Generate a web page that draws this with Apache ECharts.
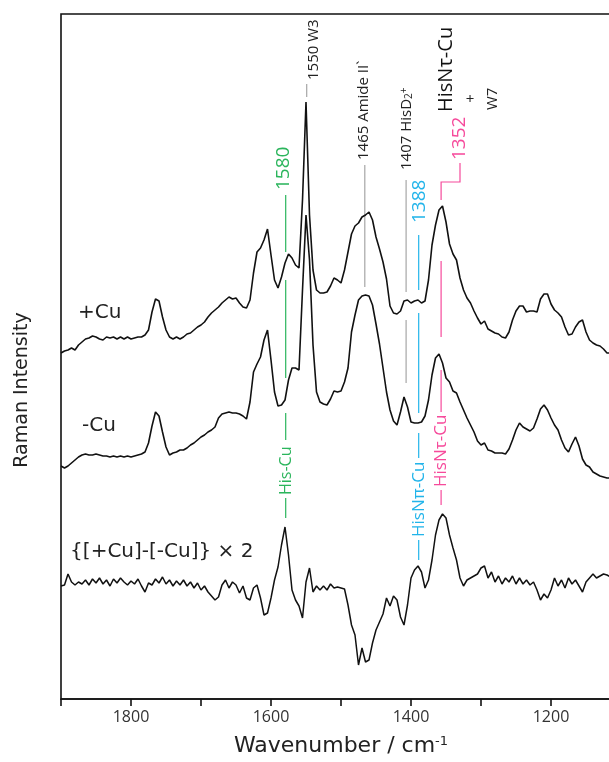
<!DOCTYPE html>
<html>
<head>
<meta charset="utf-8">
<script src="https://cdn.jsdelivr.net/npm/echarts@6/dist/echarts.min.js"></script>
<style>
html,body{margin:0;padding:0;background:#fff;}
#chart{width:609px;height:762px;}
</style>
</head>
<body>
<div id="chart"></div>
<script>
// Wavenumber grid (cm-1)
const wavenumber = [1900,1895,1890,1885,1880,1875,1870,1865,1860,1855,1850,1845,1840,1835,1830,1825,1820,1815,1810,1805,1800,1795,1790,1785,1780,1775,1770,1765,1760,1755,1750,1745,1740,1735,1730,1725,1720,1715,1710,1705,1700,1695,1690,1685,1680,1675,1670,1665,1660,1655,1650,1645,1640,1635,1630,1625,1620,1615,1610,1605,1600,1595,1590,1585,1580,1575,1570,1565,1560,1555,1550,1545,1540,1535,1530,1525,1520,1515,1510,1505,1500,1495,1490,1485,1480,1475,1470,1465,1460,1455,1450,1445,1440,1435,1430,1425,1420,1415,1410,1405,1400,1395,1390,1385,1380,1375,1370,1365,1360,1355,1350,1345,1340,1335,1330,1325,1320,1315,1310,1305,1300,1295,1290,1285,1280,1275,1270,1265,1260,1255,1250,1245,1240,1235,1230,1225,1220,1215,1210,1205,1200,1195,1190,1185,1180,1175,1170,1165,1160,1155,1150,1145,1140,1135,1130,1125,1120,1115];

// +Cu spectrum (offset, arbitrary units)
const plusCu = [346,348,349,351,349,354,357,360,361,363,362,360,359,362,361,362,360,362,360,362,360,361,362,362,364,369,387,400,398,382,369,362,360,362,360,362,365,366,369,372,374,377,382,386,389,392,396,399,402,400,401,396,392,391,399,426,447,451,459,470,444,419,411,422,436,445,441,434,431,499,597,484,429,409,406,406,407,413,421,419,416,429,447,465,473,476,482,484,487,479,462,450,437,420,393,386,385,388,398,399,396,398,399,396,398,419,454,474,489,493,477,455,445,439,421,409,401,396,388,381,375,378,370,368,366,365,362,361,367,379,388,393,393,387,388,388,387,400,405,405,395,389,386,382,372,364,365,372,377,379,367,359,356,354,353,350,346,346];

// -Cu spectrum (offset, arbitrary units)
const minusCu = [233,231,233,236,239,242,244,245,244,244,245,244,243,243,242,243,242,243,242,243,242,243,244,245,247,256,273,287,283,267,252,244,246,247,249,249,251,254,256,259,262,264,267,269,272,281,285,286,287,286,286,285,283,280,297,327,335,342,359,369,339,307,293,294,299,319,331,331,329,409,484,439,354,307,297,295,294,300,308,307,308,317,331,367,384,399,403,404,403,394,375,355,331,307,289,278,274,287,302,292,277,276,276,277,283,299,324,341,345,336,321,317,308,306,297,289,281,274,267,258,254,256,249,248,246,246,246,245,250,259,269,276,272,270,268,271,280,290,294,289,281,274,269,259,251,247,255,262,253,240,234,232,227,225,223,222,221,221];

// {[+Cu]-[-Cu]} x 2 difference spectrum (offset, arbitrary units)
const diffX2 = [113,114,125,117,114,117,115,119,114,120,116,121,115,119,113,120,116,121,117,114,118,115,120,113,107,116,114,120,116,122,115,119,113,118,114,119,113,117,111,116,109,113,107,103,99,102,114,119,111,117,114,106,113,101,99,111,114,101,84,86,101,119,132,154,172,144,109,99,93,81,117,131,107,113,109,113,109,115,111,112,111,110,94,74,64,34,51,37,39,56,69,77,85,101,93,103,99,82,74,94,121,129,133,127,111,119,139,164,179,185,181,164,151,139,121,113,119,121,123,125,131,133,121,127,117,123,115,121,117,123,115,121,115,119,114,117,109,99,105,101,109,121,113,119,111,121,115,119,113,107,117,121,125,121,123,125,124,122];

// Axis tick labels shown
const tickLabels = [1800, 1600, 1400, 1200];

// Annotation marker lines: [wavenumber(s), intensity values, colour]
const GRAY = '#a6a6a6', CYAN = '#22b4ea', PINK = '#f64a9b', GREEN = '#2bb55c';
const markerSegments = [
  {c: GRAY,  pts: [[1549, 615], [1549, 602]]},
  {c: GRAY,  pts: [[1466, 534], [1466, 412]]},
  {c: GRAY,  pts: [[1407, 519], [1407, 407]]},
  {c: GRAY,  pts: [[1407, 379], [1407, 316]]},
  {c: CYAN,  pts: [[1389, 464], [1389, 409]]},
  {c: CYAN,  pts: [[1389, 386], [1389, 286]]},
  {c: CYAN,  pts: [[1389, 266], [1389, 241]]},
  {c: CYAN,  pts: [[1389, 159], [1389, 139]]},
  {c: PINK,  pts: [[1330, 536], [1330, 517], [1357, 517], [1357, 499]]},
  {c: PINK,  pts: [[1357, 438], [1357, 362]]},
  {c: PINK,  pts: [[1357, 329], [1357, 287]]},
  {c: PINK,  pts: [[1357, 209], [1357, 194]]},
  {c: GREEN, pts: [[1579, 504], [1579, 447]]},
  {c: GREEN, pts: [[1579, 419], [1579, 321]]},
  {c: GREEN, pts: [[1579, 286], [1579, 259]]},
  {c: GREEN, pts: [[1579, 201], [1579, 181]]}
];

// Rotated annotation texts: [wavenumber, intensity at text start, text, colour, size]
const rotatedLabels = [
  [1538.6, 619, '1550 W3', '#222', 15],
  [1467, 539, '1465 Amide II`', '#222', 15],
  [1405.7, 529, '1407 HisD{sub|2}{sup|+}', '#222', 15],
  [1387.1, 476, '1388', CYAN, 19],
  [1330, 539, '1352', PINK, 19],
  [1581.4, 509, '1580', GREEN, 19],
  [1350, 587, 'HisNτ-Cu', '#111', 20],
  [1282.9, 589, 'W7', '#222', 15],
  [1578.6, 204, 'His-Cu', GREEN, 16],
  [1387.9, 162, 'HisNπ-Cu', CYAN, 17],
  [1357, 212, 'HisNτ-Cu', PINK, 17]
];
const plusSign = [1315.7, 599, '+'];

// Horizontal curve labels: [wavenumber at left edge, intensity at middle, text]
const curveLabels = [
  [1875.7, 386, '+Cu', 20],
  [1870, 273, '-Cu', 20],
  [1887, 147, '{[+Cu]-[-Cu]} × 2', 20]
];

const FONT = '"Open Sans", "Noto Sans", sans-serif';
const FONT2 = '"DejaVu Sans", Verdana, sans-serif';
const zip = arr => wavenumber.map((w, i) => [w, arr[i]]);

const chart = echarts.init(document.getElementById('chart'), null, {renderer: 'canvas'});
chart.setOption({
  animation: false,
  backgroundColor: '#fff',
  grid: {left: 61, top: 14, bottom: 63, width: 560, outerBoundsMode: 'none', containLabel: false,
    show: true, borderColor: '#111', borderWidth: 1.6, backgroundColor: 'transparent'},
  xAxis: {
    type: 'value', inverse: true, min: 1100, max: 1900, interval: 100,
    axisLine: {show: true, lineStyle: {color: '#111', width: 1.6}},
    axisTick: {show: true, length: 7, lineStyle: {color: '#111', width: 1.6}},
    axisLabel: {
      formatter: v => tickLabels.includes(v) ? String(v) : '',
      color: '#333', fontSize: 16, margin: 10, fontFamily: FONT
    },
    splitLine: {show: false},
    name: 'Wavenumber / cm{sup|-1}', nameLocation: 'middle', nameGap: 36,
    nameTextStyle: {fontSize: 22, color: '#222', fontFamily: FONT2,
      rich: {sup: {fontSize: 13, verticalAlign: 'top', color: '#222', fontFamily: FONT2}}}
  },
  yAxis: {type: 'value', min: 0, max: 685, show: false},
  series: [
    {type: 'lines', coordinateSystem: 'cartesian2d', polyline: true, z: 1, silent: true,
      data: markerSegments.map(s => ({coords: s.pts, lineStyle: {color: s.c, width: 1.2, opacity: 1}}))},
    {type: 'line', data: zip(plusCu), showSymbol: false, z: 3, lineStyle: {color: '#111', width: 1.6}},
    {type: 'line', data: zip(minusCu), showSymbol: false, z: 3, lineStyle: {color: '#111', width: 1.6}},
    {type: 'line', data: zip(diffX2), showSymbol: false, z: 3, lineStyle: {color: '#111', width: 1.5}}
  ]
});

const toPx = (w, y) => chart.convertToPixel({gridIndex: 0}, [w, y]);
const graphics = [];
rotatedLabels.forEach(([w, y, t, col, fs]) => {
  const p = toPx(w, y);
  graphics.push({
    type: 'text', x: p[0], y: p[1], rotation: Math.PI / 2, z: 10,
    style: {text: t, fill: col, fontSize: fs, fontFamily: FONT, align: 'left', verticalAlign: 'middle',
      textAlign: 'left', textVerticalAlign: 'middle',
      rich: {
        sub: {fontSize: 10, verticalAlign: 'bottom', fill: col, fontFamily: FONT},
        sup: {fontSize: 10, verticalAlign: 'top', fill: col, fontFamily: FONT}
      }}
  });
});
{
  const p = toPx(plusSign[0], plusSign[1]);
  graphics.push({type: 'text', x: p[0], y: p[1], z: 10,
    style: {text: plusSign[2], fill: '#222', fontSize: 15, fontFamily: FONT, align: 'center', verticalAlign: 'middle', textAlign: 'center', textVerticalAlign: 'middle'}});
}
curveLabels.forEach(([w, y, t, fs]) => {
  const p = toPx(w, y);
  graphics.push({type: 'text', x: p[0], y: p[1], z: 10,
    style: {text: t, fill: '#222', fontSize: fs, fontFamily: FONT2, align: 'left', verticalAlign: 'middle', textAlign: 'left', textVerticalAlign: 'middle'}});
});
graphics.push({type: 'text', x: 22, y: 390, rotation: Math.PI / 2, z: 10,
  style: {text: 'Raman Intensity', fill: '#222', fontSize: 19, fontFamily: FONT2, align: 'center', verticalAlign: 'middle', textAlign: 'center', textVerticalAlign: 'middle'}});
chart.setOption({graphic: graphics});
</script>
</body>
</html>
